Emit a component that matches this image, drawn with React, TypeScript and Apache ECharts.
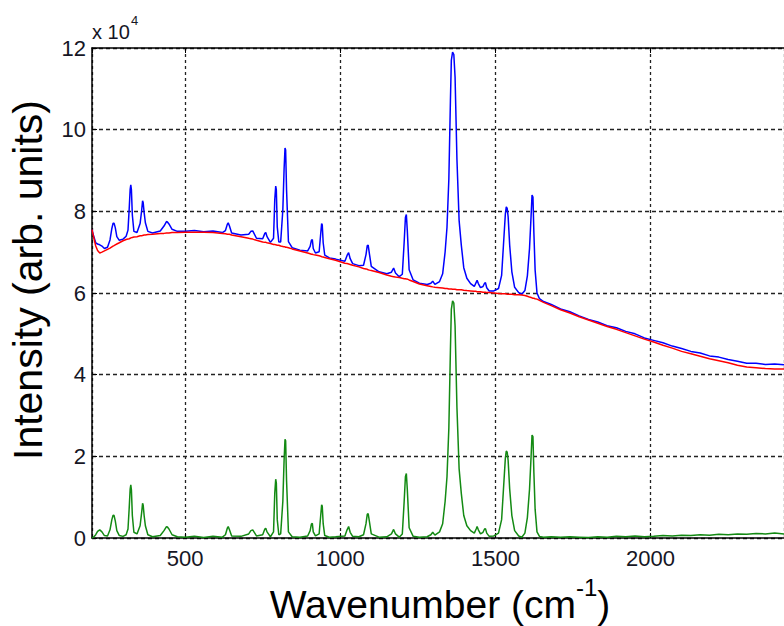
import React, { useEffect, useRef } from "react";
import * as echarts from "echarts";

// Raman spectrum: raw measurement, fitted baseline and baseline-corrected signal.
// Intensities are in units of 10^4 counts.
const wavenumber = [
  200, 205, 212, 218, 225, 232, 240, 250, 258, 264,
  268, 271, 275, 280, 288, 300, 310, 316, 320, 323,
  325, 327, 330, 335, 345, 355, 360, 363, 365, 368,
  372, 380, 395, 420, 432, 440, 443, 448, 458, 475,
  500, 530, 560, 590, 620, 630, 636, 639, 643, 650,
  680, 705, 712, 718, 730, 750, 757, 760, 764, 775,
  785, 789, 792, 794, 797, 802, 808, 815, 819, 822,
  824, 827, 833, 845, 870, 895, 903, 907, 910, 913,
  920, 932, 937, 940, 942, 945, 950, 965, 985, 1015,
  1022, 1027, 1032, 1040, 1060, 1075, 1083, 1087, 1090, 1094,
  1100, 1125, 1150, 1165, 1172, 1178, 1190, 1200, 1206, 1210,
  1213, 1216, 1222, 1235, 1255, 1280, 1292, 1298, 1305, 1320,
  1330, 1338, 1344, 1350, 1355, 1358, 1362, 1366, 1370, 1376,
  1383, 1390, 1398, 1408, 1420, 1432, 1438, 1441, 1445, 1452,
  1460, 1465, 1468, 1472, 1480, 1495, 1510, 1520, 1526, 1532,
  1535, 1538, 1541, 1546, 1553, 1562, 1575, 1585, 1595, 1603,
  1610, 1615, 1618, 1621, 1624, 1628, 1634, 1642, 1655, 1680,
  1710, 1740, 1770, 1800, 1830, 1860, 1890, 1920, 1950, 1980,
  2010, 2040, 2070, 2100, 2130, 2160, 2190, 2220, 2250, 2280,
  2310, 2340, 2370, 2400, 2430,
];

const measured = [
  7.55, 7.40, 7.23, 7.20, 7.18, 7.15, 7.09, 7.12, 7.30, 7.58,
  7.71, 7.71, 7.60, 7.38, 7.29, 7.32, 7.39, 7.54, 8.08, 8.54,
  8.65, 8.53, 7.91, 7.51, 7.48, 7.70, 8.02, 8.26, 8.21, 7.97,
  7.72, 7.51, 7.47, 7.52, 7.64, 7.75, 7.74, 7.69, 7.56, 7.51,
  7.51, 7.53, 7.50, 7.52, 7.48, 7.53, 7.68, 7.72, 7.64, 7.47,
  7.42, 7.44, 7.51, 7.52, 7.34, 7.33, 7.46, 7.48, 7.38, 7.24,
  7.34, 8.29, 8.62, 8.53, 7.62, 7.25, 7.25, 8.04, 9.03, 9.55,
  9.50, 8.52, 7.26, 7.11, 7.05, 7.03, 7.14, 7.29, 7.31, 7.09,
  6.98, 7.01, 7.45, 7.70, 7.67, 7.23, 6.93, 6.86, 6.83, 6.78,
  6.92, 6.99, 6.84, 6.72, 6.67, 6.68, 6.94, 7.16, 7.17, 6.96,
  6.65, 6.52, 6.47, 6.51, 6.61, 6.49, 6.40, 6.46, 7.25, 7.85,
  7.92, 7.54, 6.57, 6.32, 6.24, 6.21, 6.24, 6.29, 6.21, 6.28,
  6.47, 7.01, 7.61, 8.80, 10.70, 11.70, 11.90, 11.84, 11.29, 9.28,
  7.78, 7.18, 6.62, 6.36, 6.23, 6.16, 6.26, 6.31, 6.23, 6.13,
  6.16, 6.24, 6.25, 6.13, 6.05, 6.05, 6.11, 6.43, 7.18, 7.93,
  8.11, 8.07, 7.87, 7.17, 6.52, 6.14, 6.01, 5.97, 6.06, 6.42,
  7.10, 7.89, 8.40, 8.35, 7.47, 6.56, 6.00, 5.86, 5.79, 5.72,
  5.61, 5.54, 5.44, 5.35, 5.29, 5.20, 5.15, 5.06, 5.00, 4.90,
  4.84, 4.78, 4.70, 4.64, 4.57, 4.53, 4.46, 4.43, 4.37, 4.33,
  4.28, 4.28, 4.25, 4.26, 4.24,
];

const baseline = [
  7.55, 7.38, 7.15, 7.04, 6.98, 7.00, 7.03, 7.07, 7.10, 7.13,
  7.15, 7.16, 7.18, 7.20, 7.23, 7.28, 7.31, 7.32, 7.33, 7.34,
  7.35, 7.35, 7.36, 7.37, 7.38, 7.40, 7.40, 7.41, 7.41, 7.42,
  7.42, 7.43, 7.44, 7.46, 7.46, 7.47, 7.47, 7.47, 7.48, 7.48,
  7.49, 7.49, 7.49, 7.48, 7.46, 7.45, 7.44, 7.44, 7.44, 7.42,
  7.38, 7.34, 7.33, 7.32, 7.29, 7.25, 7.24, 7.24, 7.23, 7.21,
  7.19, 7.19, 7.18, 7.18, 7.17, 7.17, 7.15, 7.14, 7.13, 7.13,
  7.12, 7.12, 7.11, 7.08, 7.03, 6.98, 6.96, 6.95, 6.95, 6.94,
  6.93, 6.91, 6.90, 6.89, 6.89, 6.88, 6.87, 6.84, 6.80, 6.73,
  6.72, 6.71, 6.70, 6.68, 6.64, 6.60, 6.59, 6.58, 6.57, 6.56,
  6.55, 6.50, 6.44, 6.41, 6.40, 6.39, 6.38, 6.36, 6.35, 6.35,
  6.34, 6.34, 6.32, 6.28, 6.22, 6.18, 6.16, 6.15, 6.14, 6.13,
  6.12, 6.11, 6.11, 6.10, 6.10, 6.10, 6.09, 6.09, 6.09, 6.08,
  6.08, 6.08, 6.07, 6.06, 6.05, 6.04, 6.04, 6.03, 6.03, 6.03,
  6.02, 6.02, 6.02, 6.01, 6.01, 6.00, 5.99, 5.98, 5.98, 5.98,
  5.98, 5.97, 5.97, 5.97, 5.97, 5.96, 5.96, 5.95, 5.94, 5.92,
  5.90, 5.89, 5.88, 5.87, 5.87, 5.86, 5.85, 5.82, 5.77, 5.69,
  5.59, 5.51, 5.42, 5.34, 5.26, 5.18, 5.11, 5.03, 4.95, 4.87,
  4.80, 4.72, 4.65, 4.57, 4.51, 4.45, 4.39, 4.34, 4.29, 4.23,
  4.19, 4.17, 4.15, 4.14, 4.14,
];

const corrected = [
  0.00, 0.02, 0.08, 0.16, 0.20, 0.15, 0.06, 0.05, 0.20, 0.45,
  0.56, 0.55, 0.42, 0.18, 0.06, 0.04, 0.08, 0.22, 0.75, 1.20,
  1.30, 1.18, 0.55, 0.14, 0.10, 0.30, 0.62, 0.85, 0.80, 0.55,
  0.30, 0.08, 0.03, 0.06, 0.18, 0.28, 0.27, 0.22, 0.08, 0.03,
  0.02, 0.04, 0.01, 0.04, 0.02, 0.08, 0.24, 0.28, 0.20, 0.05,
  0.04, 0.10, 0.18, 0.20, 0.05, 0.08, 0.22, 0.24, 0.15, 0.03,
  0.15, 1.10, 1.44, 1.35, 0.45, 0.08, 0.10, 0.90, 1.90, 2.42,
  2.38, 1.40, 0.15, 0.03, 0.02, 0.05, 0.18, 0.34, 0.36, 0.15,
  0.05, 0.10, 0.55, 0.81, 0.78, 0.35, 0.06, 0.02, 0.03, 0.05,
  0.20, 0.28, 0.14, 0.04, 0.03, 0.08, 0.35, 0.58, 0.60, 0.40,
  0.10, 0.02, 0.03, 0.10, 0.21, 0.10, 0.02, 0.10, 0.90, 1.50,
  1.58, 1.20, 0.25, 0.04, 0.02, 0.03, 0.08, 0.14, 0.07, 0.15,
  0.35, 0.90, 1.50, 2.70, 4.60, 5.60, 5.81, 5.75, 5.20, 3.20,
  1.70, 1.10, 0.55, 0.30, 0.18, 0.12, 0.22, 0.28, 0.20, 0.10,
  0.14, 0.22, 0.23, 0.12, 0.04, 0.05, 0.12, 0.45, 1.20, 1.95,
  2.13, 2.10, 1.90, 1.20, 0.55, 0.18, 0.05, 0.02, 0.12, 0.50,
  1.20, 2.00, 2.52, 2.48, 1.60, 0.70, 0.15, 0.04, 0.02, 0.03,
  0.02, 0.03, 0.02, 0.01, 0.03, 0.02, 0.04, 0.03, 0.05, 0.03,
  0.04, 0.06, 0.05, 0.07, 0.06, 0.08, 0.07, 0.09, 0.08, 0.10,
  0.09, 0.11, 0.10, 0.12, 0.10,
];

const X_MIN = 200;
const X_MAX = 2430;
const Y_MIN = 0;
const Y_MAX = 12;
const Y_STEP = 2;

const FONT = "'Liberation Sans', Arial, Helvetica, sans-serif";

export default function App() {
  const ref = useRef<HTMLDivElement>(null);

  useEffect(() => {
    if (!ref.current) return;
    const chart = echarts.init(ref.current, null, { renderer: "svg" });
    const pairs = (ys: number[]) => wavenumber.map((x, i) => [x, ys[i]]);
    const axisLine = { show: true, lineStyle: { color: "#000", width: 1.5 } };
    const tick = { show: true, inside: true, length: 5, lineStyle: { color: "#000", width: 1 } };

    chart.setOption({
      animation: false,
      backgroundColor: "#fff",
      grid: { left: 92, right: 0, top: 48, bottom: 88, containLabel: false },
      xAxis: [
        {
          type: "value",
          position: "bottom",
          min: X_MIN,
          max: X_MAX,
          axisLine,
          axisTick: tick,
          axisLabel: {
            showMinLabel: false,
            showMaxLabel: false,
            formatter: (v: number) => String(v),
            fontSize: 22,
            fontFamily: FONT,
            color: "#161625",
            margin: 9,
          },
          splitLine: {
            show: true,
            lineStyle: { color: "#222", width: 1.3, type: [3, 3] },
          },
        },
        {
          type: "value",
          position: "top",
          min: X_MIN,
          max: X_MAX,
          axisLine,
          axisTick: tick,
          axisLabel: { show: false },
          splitLine: { show: false },
        },
      ],
      yAxis: {
        type: "value",
        min: Y_MIN,
        max: Y_MAX,
        interval: Y_STEP,
        axisLine,
        axisTick: tick,
        axisLabel: {
          fontSize: 22,
          fontFamily: FONT,
          color: "#161625",
          margin: 6,
        },
        splitLine: {
          show: true,
          lineStyle: { color: "#222", width: 1.3, type: [4, 3] },
        },
      },
      graphic: [
        {
          type: "text",
          x: 92,
          y: 32,
          style: {
            text: "x 10",
            font: `20px ${FONT}`,
            fill: "#161625",
            textAlign: "left",
            verticalAlign: "middle",
          },
        },
        {
          type: "text",
          x: 131,
          y: 20,
          style: {
            text: "4",
            font: `13px ${FONT}`,
            fill: "#161625",
            textAlign: "left",
            verticalAlign: "middle",
          },
        },
        {
          type: "text",
          x: 440,
          y: 604,
          style: {
            text: "Wavenumber (cm{sup|-1})",
            font: `39px ${FONT}`,
            fill: "#000",
            textAlign: "center",
            verticalAlign: "middle",
            lineHeight: 58,
            rich: {
              sup: {
                fontSize: 24,
                fontFamily: FONT,
                verticalAlign: "top",
                lineHeight: 24,
              },
            },
          },
        },
        {
          type: "text",
          x: 28,
          y: 280,
          rotation: Math.PI / 2,
          style: {
            text: "Intensity (arb. units)",
            font: `41px ${FONT}`,
            fill: "#000",
            textAlign: "center",
            verticalAlign: "middle",
          },
        },
      ],
      series: [
        {
          name: "Measured",
          type: "line",
          xAxisIndex: 0,
          data: pairs(measured),
          showSymbol: false,
          lineStyle: { color: "#0000ff", width: 1.5 },
          itemStyle: { color: "#0000ff" },
          z: 2,
        },
        {
          name: "Baseline",
          type: "line",
          xAxisIndex: 0,
          data: pairs(baseline),
          showSymbol: false,
          lineStyle: { color: "#ff0000", width: 1.5 },
          itemStyle: { color: "#ff0000" },
          z: 3,
        },
        {
          name: "Corrected",
          type: "line",
          xAxisIndex: 0,
          data: pairs(corrected),
          showSymbol: false,
          lineStyle: { color: "#138a13", width: 1.5 },
          itemStyle: { color: "#138a13" },
          z: 2,
        },
      ],
    });

    return () => chart.dispose();
  }, []);

  return (
    <div
      ref={ref}
      style={{ position: "fixed", left: 0, top: 0, width: 784, height: 626, background: "#fff" }}
    />
  );
}
